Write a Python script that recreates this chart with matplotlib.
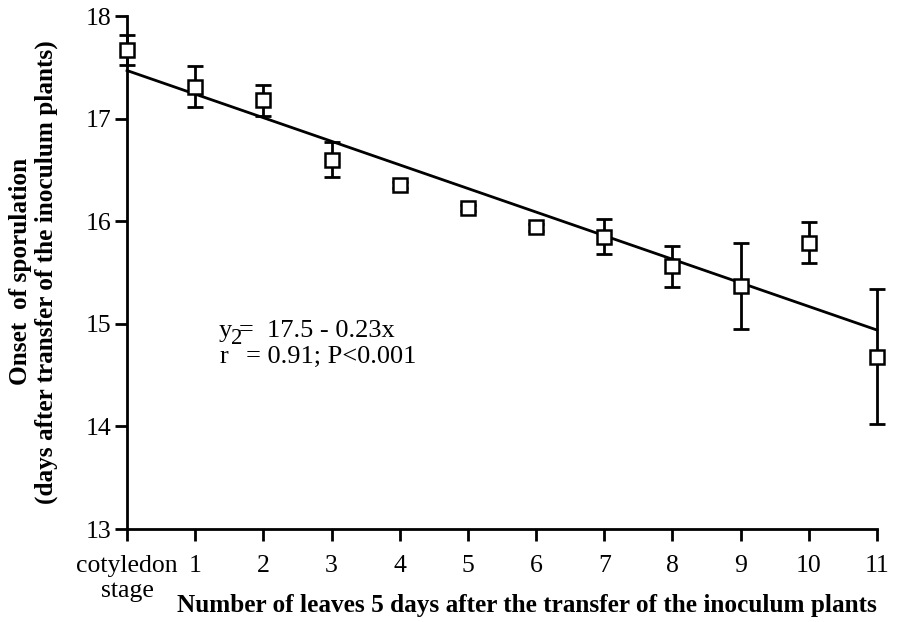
import matplotlib
matplotlib.use("Agg")
import matplotlib.pyplot as plt
from matplotlib.transforms import offset_copy
import numpy as np

plt.rcParams['font.family'] = ['Liberation Serif', 'DejaVu Serif']

# data
leaves = [0, 1, 2, 3, 4, 5, 6, 7, 8, 9, 10, 11]
onset = [17.67, 17.31, 17.18, 16.60, 16.35, 16.13, 15.94, 15.85, 15.56, 15.37, 15.79, 14.68]
err = [0.15, 0.20, 0.15, 0.17, 0.03, 0.03, 0.03, 0.17, 0.20, 0.42, 0.20, 0.66]
xticklabels = ["cotyledon\nstage", "1", "2", "3", "4", "5", "6", "7", "8", "9", "10", "11"]
intercept = 17.47
slope = -0.23

fig = plt.figure(figsize=(9.14, 6.22), dpi=100)
ax = fig.add_axes([0.139, 0.1495, 0.8205, 0.8245])

# regression line
xl = np.array([leaves[0], leaves[-1]])
ax.plot(xl, intercept + slope * xl, color='black', lw=2, zorder=2, clip_on=False)

eb = ax.errorbar(leaves, onset, yerr=err, fmt='none', ecolor='black', elinewidth=2,
                 capsize=5.5, capthick=2, zorder=3)
for art in eb.lines[1] + eb.lines[2]:
    art.set_clip_on(False)
ax.plot(leaves, onset, 's', ms=10, mfc='white', mec='black', mew=1.8, zorder=4, clip_on=False)

ax.set_xlim(0, 11)
ax.set_ylim(13, 18)
ax.set_xticks(leaves)
ax.set_xticklabels(xticklabels)
ax.set_yticks([13, 14, 15, 16, 17, 18])
ax.spines['top'].set_visible(False)
ax.spines['right'].set_visible(False)
ax.spines['left'].set_linewidth(2)
ax.spines['bottom'].set_linewidth(2)
ax.tick_params(direction='out', length=8.5, width=2, labelsize=18.5)
ax.tick_params(axis='x', pad=10)
ax.tick_params(axis='y', pad=3)

fig.text(0.037, 0.563, "Onset  of sporulation\n(days after transfer of the inoculum plants)",
         fontsize=18.2, fontweight='bold', rotation=90, ha='center', va='center',
         linespacing=1.15)
fig.text(0.576, 0.027, "Number of leaves 5 days after the transfer of the inoculum plants",
         fontsize=18.2, fontweight='bold', ha='center', va='center')

# equation
ax.text(1.35, 14.87, "y =  17.5 - 0.23x", fontsize=19, va='baseline')
ax.text(1.35, 14.62, "r", fontsize=19, va='baseline')
ax.text(1.35, 14.62, "2", fontsize=16.5, va='baseline',
        transform=offset_copy(ax.transData, fig=fig, x=8.5, y=13.5, units='points'))
ax.text(1.35, 14.62, "= 0.91; P<0.001", fontsize=19, va='baseline',
        transform=offset_copy(ax.transData, fig=fig, x=19.5, y=0, units='points'))

fig.savefig("out.png", dpi=100)
